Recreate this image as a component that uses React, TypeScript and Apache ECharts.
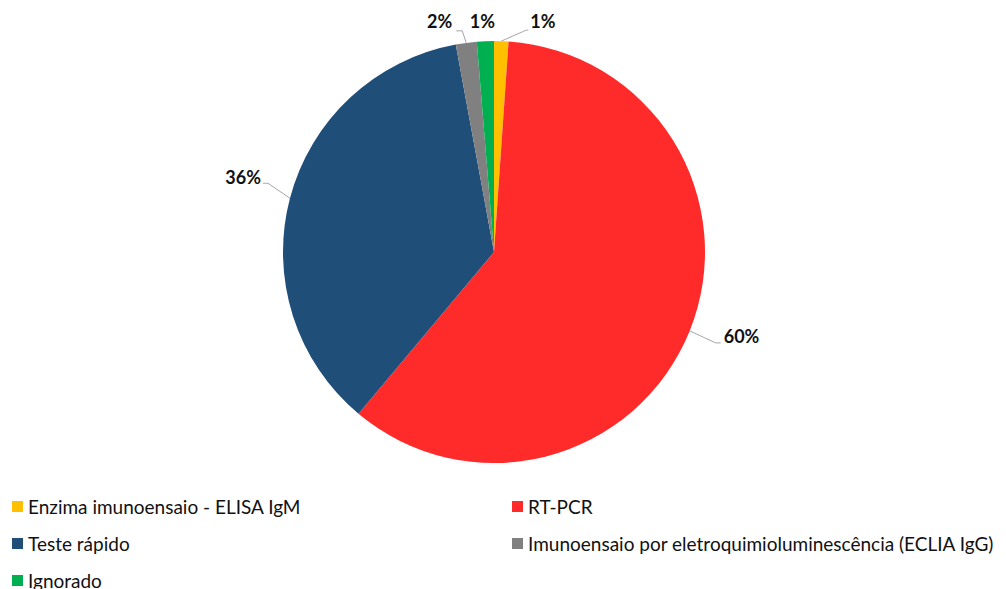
import React, { useEffect, useRef } from "react";
import * as echarts from "echarts";

const categories = [
  "Enzima imunoensaio - ELISA IgM",
  "RT-PCR",
  "Teste rápido",
  "Imunoensaio por eletroquimioluminescência (ECLIA IgG)",
  "Ignorado",
];
const values = [1.1, 60.0, 36.0, 1.6, 1.3];
const colors = ["#FFC000", "#FF2A2A", "#1F4E79", "#808080", "#00B050"];
const leftLegend = [categories[0], categories[2], categories[4]];
const rightLegend = [categories[1], categories[3]];

// label placement relative to each slice's outer-edge midpoint (same order as categories):
// [elbowDx, elbowDy, endDx, labelDx, labelDy, align, showLine]
const labelOffsets: Array<[number, number, number, number, number, string, boolean]> = [
  [25, -11, 27, 29, -20, "left", true],
  [26, 12, 31, 34, 5, "left", true],
  [-22, -15, -27, -29, -21, "right", true],
  [-4, -12, -10, -14, -22, "right", true],
  [0, 0, 0, -3, -20, "center", false],
];

const CX = 494;
const CY = 252;
const R = 211;

const legendText = { fontFamily: "Lato", fontSize: 19, color: "#111111", lineHeight: 18 };

export default function App() {
  const ref = useRef<HTMLDivElement>(null);
  useEffect(() => {
    if (!ref.current) return;
    const chart = echarts.init(ref.current, null, { renderer: "svg" });
    const total = values.reduce((a, b) => a + b, 0);
    const mids: number[] = [];
    let acc = 0;
    values.forEach((v) => {
      const a0 = (acc / total) * 2 * Math.PI;
      acc += v;
      const a1 = (acc / total) * 2 * Math.PI;
      mids.push((a0 + a1) / 2);
    });
    const edge = (i: number) => [CX + R * Math.sin(mids[i]), CY - R * Math.cos(mids[i])];

    chart.setOption({
      animation: false,
      backgroundColor: "#ffffff",
      color: colors,
      legend: [
        {
          orient: "vertical",
          left: 12,
          top: 497,
          height: 120,
          padding: 0,
          data: leftLegend,
          itemWidth: 11,
          itemHeight: 11,
          itemGap: 18,
          icon: "rect",
          textStyle: legendText,
          selectedMode: false,
        },
        {
          orient: "vertical",
          left: 512,
          top: 497,
          height: 120,
          padding: 0,
          data: rightLegend,
          itemWidth: 11,
          itemHeight: 11,
          itemGap: 18,
          icon: "rect",
          textStyle: legendText,
          selectedMode: false,
        },
      ],
      series: [
        {
          type: "pie",
          center: [CX, CY],
          radius: [0, R],
          startAngle: 90,
          clockwise: true,
          avoidLabelOverlap: false,
          itemStyle: { borderWidth: 0 },
          label: {
            show: true,
            position: "outside",
            formatter: (p: any) => Math.round(p.percent) + "%",
            fontFamily: "Lato",
            fontWeight: "bold",
            fontSize: 18,
            color: "#111111",
          },
          labelLine: { show: true, lineStyle: { color: "#A6A6A6", width: 1 } },
          labelLayout: (params: any) => {
            const i = params.dataIndex;
            const o = labelOffsets[i];
            const [ex, ey] = edge(i);
            return {
              x: ex + o[3],
              y: ey + o[4],
              align: o[5],
              verticalAlign: "middle",
              labelLinePoints: o[6]
                ? [
                    [ex, ey],
                    [ex + o[0], ey + o[1]],
                    [ex + o[2], ey + o[1]],
                  ]
                : [
                    [ex, ey],
                    [ex, ey],
                    [ex, ey],
                  ],
            };
          },
          emphasis: { disabled: true },
          data: categories.map((name, i) => ({
            name,
            value: values[i],
            labelLine: { show: labelOffsets[i][6] },
          })),
        },
      ],
    });
    return () => chart.dispose();
  }, []);
  return (
    <div
      ref={ref}
      style={{ position: "fixed", left: 0, top: 0, width: 1006, height: 589, background: "#fff" }}
    />
  );
}
